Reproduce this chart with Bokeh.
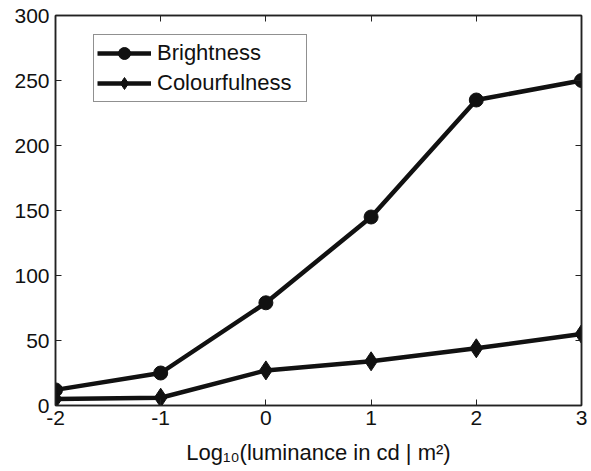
from bokeh.plotting import figure
from bokeh.models import Range1d, LinearAxis, FixedTicker, Legend, LegendItem
from bokeh.embed import file_html
from bokeh.resources import INLINE

log_lum = [-2, -1, 0, 1, 2, 3]
brightness = [12, 25, 79, 145, 235, 250]
colourfulness = [5, 6, 27, 34, 44, 55]
x_ticks = [-2, -1, 0, 1, 2, 3]
y_ticks = [0, 50, 100, 150, 200, 250, 300]
x_title = "Log\u2081\u2080(luminance in cd | m\u00b2)"

FONT = "Liberation Sans"
INK = "#111111"

p = figure(width=589, height=469, output_backend="svg", toolbar_location=None,
           x_range=Range1d(-2, 3), y_range=Range1d(0, 300),
           min_border_left=55, min_border_right=8, min_border_top=15, min_border_bottom=64)
p.xgrid.visible = False
p.ygrid.visible = False
p.outline_line_color = "#222222"
p.outline_line_width = 1.5
p.background_fill_color = "white"
p.border_fill_color = "white"

def style_axis(ax):
    ax.axis_line_color = "#222222"
    ax.axis_line_width = 1.5
    ax.major_tick_in = 6
    ax.major_tick_out = 0
    ax.minor_tick_in = 0
    ax.minor_tick_out = 0
    ax.major_tick_line_color = "#222222"
    ax.major_tick_line_width = 1
    ax.major_label_text_font = FONT
    ax.major_label_text_font_size = "21px"
    ax.major_label_text_color = INK

p.xaxis.ticker = FixedTicker(ticks=x_ticks)
p.yaxis.ticker = FixedTicker(ticks=y_ticks)
style_axis(p.xaxis[0])
style_axis(p.yaxis[0])
p.xaxis.major_label_overrides = {t: str(t) for t in x_ticks}
p.xaxis.major_label_standoff = 5
p.yaxis.major_label_standoff = 6
p.xaxis.axis_label = x_title
p.xaxis.axis_label_text_font = FONT
p.xaxis.axis_label_text_font_style = "normal"
p.xaxis.axis_label_text_font_size = "22px"
p.xaxis.axis_label_text_color = INK
p.xaxis.axis_label_standoff = 12

top = LinearAxis(ticker=FixedTicker(ticks=x_ticks))
style_axis(top)
top.major_label_overrides = {t: "" for t in x_ticks}
top.major_label_standoff = 0
p.add_layout(top, "above")
right = LinearAxis(ticker=FixedTicker(ticks=y_ticks))
style_axis(right)
right.major_label_overrides = {t: "" for t in y_ticks}
right.major_label_standoff = 0
p.add_layout(right, "right")

l1 = p.line(log_lum, brightness, line_width=4.5, color=INK)
m1 = p.scatter(log_lum, brightness, marker="circle", size=14, color=INK)
l2 = p.line(log_lum, colourfulness, line_width=4.5, color=INK)
m2 = p.scatter(log_lum, colourfulness, marker="diamond", size=19, color=INK)

legend = Legend(items=[LegendItem(label="Brightness", renderers=[l1, m1]),
                       LegendItem(label="Colourfulness", renderers=[l2, m2])],
                location=(38, 303))
legend.label_text_font = FONT
legend.label_text_font_size = "22px"
legend.label_text_color = INK
legend.border_line_color = "#222222"
legend.border_line_width = 1.5
legend.glyph_width = 54
legend.glyph_height = 30
legend.label_height = 30
legend.label_width = 146
legend.label_standoff = 6
legend.spacing = 0
legend.padding = 3
legend.margin = 0
p.add_layout(legend, "center")

open("out.html", "w").write(file_html(p, INLINE))
